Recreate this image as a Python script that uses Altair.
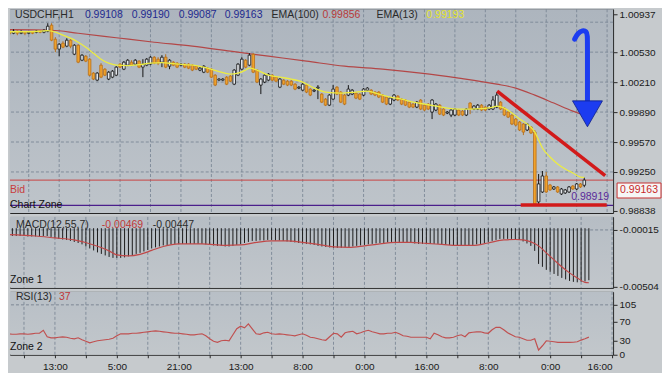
import altair as alt
import pandas as pd

# ---------------- data ----------------
BAR_INDEX = list(range(-13, 139))

OPEN = [
    1.00754, 1.00732, 1.00754, 1.00732, 1.00743, 1.00732, 1.00743, 1.00743, 1.00754, 1.00743,
    1.00754, 1.00818, 1.00668, 1.00562, 1.00626, 1.00594, 1.00658, 1.00508, 1.00604, 1.00444,
    1.00487, 1.00455, 1.00306, 1.00231, 1.00391, 1.00348, 1.00242, 1.00263, 1.00284, 1.00402,
    1.00348, 1.00391, 1.00423, 1.00402, 1.00434, 1.00370, 1.00391, 1.00402, 1.00476, 1.00455,
    1.00423, 1.00476, 1.00380, 1.00423, 1.00412, 1.00391, 1.00402, 1.00402, 1.00391, 1.00380,
    1.00338, 1.00316, 1.00359, 1.00348, 1.00284, 1.00231, 1.00231, 1.00263, 1.00274, 1.00188,
    1.00284, 1.00348, 1.00444, 1.00391, 1.00508, 1.00338, 1.00178, 1.00210, 1.00231, 1.00284,
    1.00263, 1.00156, 1.00231, 1.00220, 1.00220, 1.00188, 1.00146, 1.00124, 1.00178, 1.00135,
    1.00114, 1.00146, 1.00082, 1.00028, 0.99964, 1.00028, 1.00156, 1.00103, 1.00071, 1.00071,
    1.00082, 1.00092, 1.00082, 1.00071, 1.00124, 1.00124, 1.00103, 1.00103, 1.00071, 1.00050,
    0.99975, 1.00018, 1.00060, 1.00028, 1.00018, 0.99996, 0.99975, 0.99943, 1.00018, 0.99964,
    0.99975, 0.99890, 0.99911, 0.99964, 0.99922, 0.99879, 0.99858, 0.99858, 0.99911, 0.99900,
    0.99858, 0.99986, 0.99922, 0.99922, 0.99964, 0.99943, 0.99922, 0.99922, 0.99943, 0.99996,
    0.99932, 0.99890, 0.99858, 0.99815, 0.99783, 0.99762, 0.99698, 0.99730, 0.99676, 0.98930,
    0.99036, 0.99207, 0.99111, 0.99068, 0.99090, 0.99015, 0.99026, 0.99036, 0.99100, 0.99068,
    0.99122, 0.99108,
]
CLOSE = [
    1.00732, 1.00754, 1.00732, 1.00743, 1.00732, 1.00743, 1.00732, 1.00754, 1.00743, 1.00764,
    1.00807, 1.00658, 1.00562, 1.00615, 1.00583, 1.00658, 1.00594, 1.00604, 1.00423, 1.00498,
    1.00434, 1.00284, 1.00242, 1.00306, 1.00263, 1.00284, 1.00316, 1.00327, 1.00370, 1.00370,
    1.00423, 1.00444, 1.00391, 1.00444, 1.00370, 1.00402, 1.00455, 1.00476, 1.00412, 1.00412,
    1.00476, 1.00370, 1.00444, 1.00391, 1.00370, 1.00402, 1.00370, 1.00359, 1.00338, 1.00348,
    1.00359, 1.00380, 1.00316, 1.00263, 1.00178, 1.00242, 1.00242, 1.00188, 1.00220, 1.00338,
    1.00402, 1.00455, 1.00370, 1.00498, 1.00316, 1.00210, 1.00242, 1.00284, 1.00295, 1.00231,
    1.00220, 1.00242, 1.00188, 1.00178, 1.00178, 1.00135, 1.00156, 1.00188, 1.00103, 1.00071,
    1.00124, 1.00156, 0.99996, 0.99964, 1.00071, 1.00135, 1.00082, 0.99996, 0.99975, 1.00135,
    1.00124, 1.00039, 1.00028, 1.00135, 1.00146, 1.00082, 1.00071, 1.00050, 0.99996, 0.99975,
    1.00039, 1.00071, 1.00018, 0.99975, 0.99964, 0.99943, 0.99943, 0.99996, 0.99922, 0.99911,
    0.99922, 1.00018, 0.99975, 0.99868, 0.99858, 0.99890, 0.99911, 0.99922, 0.99858, 0.99858,
    0.99922, 0.99922, 0.99954, 0.99964, 0.99911, 0.99911, 0.99964, 1.00018, 1.00071, 0.99922,
    0.99858, 0.99836, 0.99762, 0.99751, 0.99698, 0.99676, 0.99762, 0.99666, 0.98908, 0.99122,
    0.99207, 0.99036, 0.99058, 0.99090, 0.99036, 0.99068, 0.99058, 0.99090, 0.99068, 0.99122,
    0.99090, 0.99163,
]
HIGH = [
    1.00775, 1.00775, 1.00764, 1.00764, 1.00754, 1.00754, 1.00754, 1.00764, 1.00764, 1.00775,
    1.00839, 1.00839, 1.00690, 1.00626, 1.00647, 1.00679, 1.00668, 1.00615, 1.00615, 1.00508,
    1.00498, 1.00466, 1.00316, 1.00316, 1.00412, 1.00359, 1.00327, 1.00338, 1.00380, 1.00412,
    1.00434, 1.00455, 1.00444, 1.00455, 1.00444, 1.00455, 1.00466, 1.00487, 1.00487, 1.00476,
    1.00498, 1.00508, 1.00455, 1.00434, 1.00423, 1.00412, 1.00412, 1.00412, 1.00402, 1.00391,
    1.00370, 1.00391, 1.00370, 1.00359, 1.00295, 1.00252, 1.00252, 1.00274, 1.00284, 1.00348,
    1.00412, 1.00476, 1.00455, 1.00519, 1.00519, 1.00348, 1.00252, 1.00295, 1.00306, 1.00295,
    1.00274, 1.00252, 1.00242, 1.00231, 1.00231, 1.00199, 1.00167, 1.00199, 1.00188, 1.00146,
    1.00135, 1.00178, 1.00092, 1.00039, 1.00082, 1.00178, 1.00167, 1.00114, 1.00082, 1.00178,
    1.00135, 1.00103, 1.00092, 1.00146, 1.00156, 1.00135, 1.00114, 1.00114, 1.00082, 1.00060,
    1.00050, 1.00082, 1.00071, 1.00039, 1.00028, 1.00007, 0.99986, 1.00007, 1.00028, 0.99975,
    0.99986, 1.00028, 0.99986, 0.99975, 0.99932, 0.99900, 0.99922, 0.99932, 0.99922, 0.99911,
    0.99932, 0.99996, 0.99964, 0.99975, 0.99975, 0.99954, 0.99975, 1.00060, 1.00103, 1.00007,
    0.99943, 0.99900, 0.99868, 0.99826, 0.99794, 0.99772, 0.99772, 0.99740, 0.99698, 0.99228,
    0.99260, 0.99250, 0.99122, 0.99100, 0.99100, 0.99079, 0.99068, 0.99100, 0.99111, 0.99132,
    0.99132, 0.99190,
]
LOW = [
    1.00711, 1.00722, 1.00711, 1.00722, 1.00711, 1.00722, 1.00722, 1.00732, 1.00732, 1.00732,
    1.00743, 1.00647, 1.00530, 1.00487, 1.00572, 1.00583, 1.00572, 1.00498, 1.00412, 1.00434,
    1.00423, 1.00274, 1.00231, 1.00220, 1.00252, 1.00274, 1.00231, 1.00252, 1.00274, 1.00359,
    1.00338, 1.00380, 1.00380, 1.00391, 1.00359, 1.00263, 1.00380, 1.00391, 1.00402, 1.00391,
    1.00370, 1.00359, 1.00348, 1.00380, 1.00359, 1.00380, 1.00359, 1.00348, 1.00327, 1.00338,
    1.00327, 1.00306, 1.00306, 1.00252, 1.00167, 1.00220, 1.00220, 1.00178, 1.00210, 1.00178,
    1.00274, 1.00338, 1.00359, 1.00380, 1.00306, 1.00199, 1.00082, 1.00199, 1.00220, 1.00220,
    1.00210, 1.00146, 1.00178, 1.00167, 1.00167, 1.00124, 1.00135, 1.00114, 1.00092, 1.00060,
    1.00103, 1.00028, 0.99986, 0.99954, 0.99954, 1.00018, 1.00071, 0.99986, 0.99964, 1.00060,
    1.00071, 1.00028, 1.00018, 1.00060, 1.00114, 1.00071, 1.00060, 1.00039, 0.99986, 0.99964,
    0.99964, 1.00007, 1.00007, 0.99964, 0.99954, 0.99932, 0.99932, 0.99932, 0.99911, 0.99900,
    0.99911, 0.99815, 0.99900, 0.99858, 0.99847, 0.99868, 0.99836, 0.99847, 0.99847, 0.99847,
    0.99847, 0.99868, 0.99911, 0.99911, 0.99900, 0.99900, 0.99911, 0.99911, 0.99932, 0.99911,
    0.99847, 0.99826, 0.99751, 0.99740, 0.99687, 0.99644, 0.99687, 0.99655, 0.98898, 0.98898,
    0.99026, 0.99026, 0.99047, 0.99058, 0.99026, 0.99004, 0.99015, 0.99026, 0.99058, 0.99058,
    0.99079, 0.99087,
]

EMA13_IDX = [-13, -9, -5, -3, -1, 1, 3, 5, 7, 9, 11, 13, 15, 18, 21, 24, 27, 30, 33, 36,
             39, 42, 45, 47, 49, 50, 52, 55, 58, 61, 64, 67, 70, 74, 78, 81, 84, 87, 90, 93,
             96, 99, 102, 105, 108, 111, 114, 115, 117, 119, 121, 123, 125, 126, 127, 129,
             131, 133, 135, 137, 138]
EMA13_VAL = [1.00748, 1.00748, 1.00754, 1.00759, 1.00743, 1.00711, 1.00679, 1.00636, 1.00583,
             1.00519, 1.00455, 1.00412, 1.00391, 1.00386, 1.00396, 1.00412, 1.00418, 1.00407,
             1.00396, 1.00386, 1.00359, 1.00322, 1.00295, 1.00306, 1.00338, 1.00359, 1.00338,
             1.00284, 1.00263, 1.00242, 1.00210, 1.00146, 1.00103, 1.00092, 1.00103, 1.00114,
             1.00082, 1.00050, 1.00028, 0.99996, 0.99975, 0.99954, 0.99932, 0.99922, 0.99922,
             0.99927, 0.99943, 0.99954, 0.99932, 0.99879, 0.99815, 0.99762, 0.99676, 0.99591,
             0.99506, 0.99410, 0.99335, 0.99282, 0.99239, 0.99196, 0.99193]

EMA100_IDX = [-13, -2, 5, 15, 25, 35, 45, 55, 65, 75, 85, 95, 105, 115, 120, 125, 130, 135, 138]
EMA100_VAL = [1.00770, 1.00764, 1.00732, 1.00684, 1.00636, 1.00594, 1.00540, 1.00487, 1.00434,
              1.00380, 1.00348, 1.00306, 1.00252, 1.00188, 1.00146, 1.00071, 0.99986, 0.99900,
              0.99856]

MACD_HIST = [
    -0.00067, -0.00067, -0.00067, -0.00067, -0.00067, -0.00067, -0.00071, -0.00071, -0.00071, -0.00071,
    -0.00067, -0.00067, -0.00075, -0.00084, -0.00092, -0.00097, -0.00101, -0.00109, -0.00118, -0.00127,
    -0.00139, -0.00157, -0.00174, -0.00191, -0.00208, -0.00221, -0.00234, -0.00247, -0.00255, -0.00255,
    -0.00255, -0.00251, -0.00242, -0.00234, -0.00221, -0.00212, -0.00200, -0.00187, -0.00174, -0.00165,
    -0.00157, -0.00148, -0.00144, -0.00139, -0.00135, -0.00135, -0.00135, -0.00135, -0.00135, -0.00135,
    -0.00135, -0.00135, -0.00139, -0.00144, -0.00148, -0.00152, -0.00152, -0.00157, -0.00157, -0.00152,
    -0.00144, -0.00135, -0.00127, -0.00118, -0.00109, -0.00109, -0.00105, -0.00105, -0.00101, -0.00101,
    -0.00105, -0.00105, -0.00109, -0.00114, -0.00118, -0.00122, -0.00127, -0.00131, -0.00135, -0.00139,
    -0.00144, -0.00152, -0.00157, -0.00161, -0.00165, -0.00169, -0.00169, -0.00169, -0.00165, -0.00161,
    -0.00157, -0.00152, -0.00148, -0.00144, -0.00139, -0.00135, -0.00131, -0.00127, -0.00127, -0.00122,
    -0.00118, -0.00118, -0.00118, -0.00118, -0.00122, -0.00127, -0.00131, -0.00135, -0.00135, -0.00135,
    -0.00135, -0.00135, -0.00135, -0.00139, -0.00144, -0.00144, -0.00148, -0.00152, -0.00152, -0.00152,
    -0.00152, -0.00144, -0.00139, -0.00135, -0.00127, -0.00118, -0.00109, -0.00101, -0.00092, -0.00092,
    -0.00092, -0.00092, -0.00097, -0.00101, -0.00114, -0.00131, -0.00152, -0.00195, -0.00307, -0.00332,
    -0.00358, -0.00375, -0.00393, -0.00410, -0.00427, -0.00440, -0.00453, -0.00461, -0.00465, -0.00461,
    -0.00457, -0.00447,
]
SIGNAL_IDX = [-13, -5, 0, 5, 10, 14, 16, 19, 22, 25, 28, 32, 38, 44, 48, 52, 56, 60, 64, 68, 72,
              76, 80, 84, 88, 92, 96, 100, 104, 108, 112, 116, 119, 121, 123, 125, 127, 129, 131,
              133, 135, 137, 138]
SIGNAL_VAL = [-0.00054, -0.00067, -0.00084, -0.00101, -0.00144, -0.00195, -0.00230, -0.00238,
              -0.00225, -0.00191, -0.00157, -0.00135, -0.00135, -0.00148, -0.00144, -0.00122,
              -0.00109, -0.00109, -0.00122, -0.00139, -0.00161, -0.00165, -0.00152, -0.00135,
              -0.00122, -0.00122, -0.00131, -0.00139, -0.00148, -0.00148, -0.00127, -0.00101,
              -0.00097, -0.00101, -0.00118, -0.00152, -0.00212, -0.00272, -0.00332, -0.00384,
              -0.00427, -0.00465, -0.00469]

RSI = [
    44.1, 44.1, 43.1, 43.1, 44.1, 44.1, 43.1, 44.1, 45.2, 45.2,
    51.5, 37.8, 35.7, 35.7, 36.8, 37.8, 36.8, 34.7, 33.6, 35.7,
    31.5, 28.4, 25.2, 27.3, 29.4, 30.5, 31.5, 32.6, 34.7, 39.9,
    44.1, 44.1, 44.1, 45.2, 45.2, 46.2, 47.3, 48.3, 49.4, 50.4,
    49.4, 48.3, 47.3, 46.2, 45.2, 45.2, 44.1, 43.1, 42.0, 42.0,
    43.1, 44.1, 39.9, 33.6, 28.4, 26.3, 29.4, 30.5, 29.4, 42.0,
    54.6, 59.9, 56.7, 65.1, 54.6, 44.1, 43.1, 46.2, 47.3, 44.1,
    43.1, 44.1, 43.1, 42.0, 41.0, 39.9, 42.0, 44.1, 41.0, 36.8,
    35.7, 33.6, 31.5, 30.5, 37.8, 45.2, 44.1, 36.8, 46.2, 48.3,
    49.4, 44.1, 46.2, 49.4, 51.5, 48.3, 46.2, 44.1, 44.1, 45.2,
    45.2, 47.3, 44.1, 39.9, 38.9, 36.8, 36.8, 36.8, 36.8, 36.8,
    33.6, 45.2, 42.0, 37.8, 35.7, 35.7, 36.8, 39.9, 42.0, 37.8,
    46.2, 47.3, 48.3, 48.3, 46.2, 45.2, 52.5, 57.8, 57.8, 52.5,
    46.2, 42.0, 37.8, 36.8, 33.6, 30.5, 30.5, 33.6, 9.9, 18.9,
    29.4, 28.4, 27.3, 25.9, 25.9, 25.9, 25.9, 26.3, 27.3, 30.9,
    33.6, 37.0,
]

GRID_X = list(range(-8, 145, 8))
X_LABELS = ["13:00", "5:00", "21:00", "13:00", "8:00", "0:00", "16:00", "8:00", "0:00", "16:00"]
MAIN_TICKS = [1.00937, 1.00530, 1.00210, 0.99890, 0.99570, 0.99250, 0.98838]
MAIN_GRID = [1.00850, 1.00530, 1.00210, 0.99890, 0.99570, 0.99250]
MACD_TICKS = [-0.00015, -0.00504]
RSI_TICKS = [0, 30, 70, 105]

BID = 0.99163
ZONE_LEVEL = 0.98894
TREND_IDX = [115.1, 143.5]
TREND_VAL = [1.00113, 0.99212]
SUPPORT_IDX = [121.3, 143.9]
SUPPORT_VAL = [0.98897, 0.98897]
ARROW_IDX = [135.48, 136.26, 137.55, 138.58, 138.84, 138.84, 138.84]
ARROW_VAL = [1.00668, 1.00732, 1.00764, 1.00753, 1.00710, 1.00593, 0.99953]
ARROW_HEAD = (138.84, 0.99871)

# ---------------- layout / style ----------------
W = 604
H_MAIN, H_MACD, H_RSI = 204, 71, 63
X_DOMAIN = [-11.613, 144.258]
Y_MAIN = [0.98812, 1.00988]
Y_MACD = [-0.005126, 0.000965]
Y_RSI = [0, 132.35]

FONT = "Liberation Sans"
LABEL_C = "#1a1a1a"
GRID_C = "#7c8896"
OUTER_BG = "#c6cacd"

ONE = pd.DataFrame({"k": [0]})

candles = pd.DataFrame({"i": BAR_INDEX, "open": OPEN, "high": HIGH, "low": LOW, "close": CLOSE})
candles["dir"] = ["up" if c >= o else "down" for o, c in zip(OPEN, CLOSE)]
ema13 = pd.DataFrame({"i": EMA13_IDX, "p": EMA13_VAL})
ema100 = pd.DataFrame({"i": EMA100_IDX, "p": EMA100_VAL})
macd = pd.DataFrame({"i": BAR_INDEX, "v": MACD_HIST, "zero": [0.0] * len(BAR_INDEX)})
signal = pd.DataFrame({"i": SIGNAL_IDX, "v": SIGNAL_VAL})
rsi = pd.DataFrame({"i": BAR_INDEX, "r": RSI})

xs = alt.Scale(domain=X_DOMAIN, nice=False, zero=False)
ys_main = alt.Scale(domain=Y_MAIN, nice=False, zero=False)
ys_macd = alt.Scale(domain=Y_MACD, nice=False, zero=False)
ys_rsi = alt.Scale(domain=Y_RSI, nice=False, zero=False)

common_y_axis = dict(orient="right", title=None, grid=False, domain=False, tickSize=4,
                     tickColor="#2a2a2a", labelPadding=2, labelColor=LABEL_C,
                     labelFont=FONT, labelFontSize=10)
ax_main = alt.Axis(values=MAIN_TICKS, format=".5f", **common_y_axis)
ax_macd = alt.Axis(values=MACD_TICKS,
                   labelExpr="replace(format(datum.value, '.5f'), '\u2212', '-')",
                   **common_y_axis)
ax_rsi = alt.Axis(values=RSI_TICKS, format="d", **common_y_axis)

lab_js = "[" + ",".join("'%s'" % s for s in X_LABELS) + "]"
ax_x_bottom = alt.Axis(values=GRID_X, title=None, grid=False, domain=False, tickSize=3,
                       tickColor="#2a2a2a", labelPadding=4, labelColor=LABEL_C,
                       labelFont=FONT, labelFontSize=10, labelOverlap=False,
                       labelExpr="(datum.value >= 0 && datum.value % 16 == 0) ? "
                                 + lab_js + "[datum.value / 16] : ''")


def xq(axis=None):
    return alt.X("i:Q", scale=xs, axis=axis)


def bg(h, top, bottom):
    grad = {"gradient": "linear", "x1": 0, "x2": 0, "y1": 0, "y2": 1,
            "stops": [{"offset": 0, "color": top}, {"offset": 1, "color": bottom}]}
    return alt.Chart(ONE).mark_rect(color=grad).encode(
        x=alt.value(0), x2=alt.value(W), y=alt.value(0), y2=alt.value(h))


def vgrid(axis=None):
    return alt.Chart(pd.DataFrame({"i": GRID_X})).mark_rule(
        color=GRID_C, strokeDash=[3, 2], strokeWidth=1, opacity=0.9).encode(x=xq(axis))


def txt(s, x, y, color=LABEL_C, size=10.5, align="left"):
    return alt.Chart(ONE).mark_text(text=s, align=align, baseline="middle", font=FONT,
                                    fontSize=size, color=color).encode(
        x=alt.value(x), y=alt.value(y))


# ---------------- main price panel ----------------
def ym(field):
    return alt.Y(field + ":Q", scale=ys_main, axis=ax_main)


hgrid = alt.Chart(pd.DataFrame({"p": MAIN_GRID})).mark_rule(
    color=GRID_C, strokeDash=[3, 2], strokeWidth=1, opacity=0.9).encode(y=ym("p"))
bid_line = alt.Chart(pd.DataFrame({"p": [BID]})).mark_rule(
    color="#c84444", strokeWidth=1).encode(y=ym("p"))
zone_line = alt.Chart(pd.DataFrame({"p": [ZONE_LEVEL]})).mark_rule(
    color="#4b1f8c", strokeWidth=1.3).encode(y=ym("p"))
ema100_line = alt.Chart(ema100).mark_line(
    color="#b34747", strokeWidth=1.2, interpolate="monotone", clip=True).encode(
    x=xq(), y=ym("p"))
wicks = alt.Chart(candles).mark_rule(strokeWidth=1, clip=True).encode(
    x=xq(), y=ym("low"), y2="high:Q",
    color=alt.Color("dir:N", scale=alt.Scale(domain=["up", "down"],
                                             range=["#151515", "#b8701c"]), legend=None))
bodies = alt.Chart(candles).mark_bar(size=2.6, strokeWidth=0.8, clip=True).encode(
    x=xq(), y=ym("open"), y2="close:Q",
    fill=alt.Fill("dir:N", scale=alt.Scale(domain=["up", "down"],
                                           range=["#e4e8ec", "#f0a22c"]), legend=None),
    stroke=alt.Stroke("dir:N", scale=alt.Scale(domain=["up", "down"],
                                               range=["#151515", "#b8701c"]), legend=None))
ema13_line = alt.Chart(ema13).mark_line(
    color="#ecec42", strokeWidth=1.3, interpolate="monotone", clip=True).encode(
    x=xq(), y=ym("p"))
trend = alt.Chart(pd.DataFrame({"i": TREND_IDX, "p": TREND_VAL})).mark_line(
    color="#d21a1a", strokeWidth=3.5).encode(x=xq(), y=ym("p"))
support = alt.Chart(pd.DataFrame({"i": SUPPORT_IDX, "p": SUPPORT_VAL})).mark_line(
    color="#d21a1a", strokeWidth=3.5).encode(x=xq(), y=ym("p"))
arrow = alt.Chart(pd.DataFrame({"i": ARROW_IDX, "p": ARROW_VAL,
                                "k": list(range(len(ARROW_IDX)))})).mark_line(
    color="#1c3cf0", strokeWidth=5, strokeCap="round", interpolate="basis").encode(
    x=xq(), y=ym("p"), order="k:Q")
arrow_head = alt.Chart(pd.DataFrame({"i": [ARROW_HEAD[0]], "p": [ARROW_HEAD[1]]})).mark_point(
    shape="triangle-down", size=900, filled=True, color="#1c3cf0", opacity=1,
    stroke="#0e1f8a", strokeWidth=0.8).encode(x=xq(), y=ym("p"))

price_box = alt.Chart(ONE).mark_rect(fill="#f6f6f6", stroke="#c83030", strokeWidth=1).encode(
    x=alt.value(608), x2=alt.value(652), y=alt.value(174), y2=alt.value(189))

header = [
    txt("USDCHF,H1", 5, 5.5, "#2a2a2a"),
    txt("0.99108", 75, 5.5, "#1f2a8f"),
    txt("0.99190", 122, 5.5, "#1f2a8f"),
    txt("0.99087", 169, 5.5, "#1f2a8f"),
    txt("0.99163", 215, 5.5, "#1f2a8f"),
    txt("EMA(100)", 262, 5.5, "#2a2a2a"),
    txt("0.99856", 313, 5.5, "#b83a3a"),
    txt("EMA(13)", 367, 5.5, "#2a2a2a"),
    txt("0.99193", 417, 5.5, "#e4e42c"),
]

main = alt.layer(
    bg(H_MAIN, "#adb5be", "#bec4ca"), vgrid(), hgrid, bid_line, zone_line, ema100_line,
    wicks, bodies, ema13_line, trend, support, arrow, arrow_head,
    txt("Bid", 0, 181, "#c83c3c"), txt("Chart Zone", 0, 196, "#111111"),
    txt("0.98919", 600, 188, "#5a2a9a", 10.5, "right"),
    price_box, txt("0.99163", 630, 181.5, "#c82828", 10.5, "center"),
    *header,
).properties(width=W, height=H_MAIN)

# ---------------- MACD panel ----------------
def yd(field):
    return alt.Y(field + ":Q", scale=ys_macd, axis=ax_macd)


macd_grid = alt.Chart(pd.DataFrame({"v": [MACD_TICKS[0]]})).mark_rule(
    color=GRID_C, strokeDash=[3, 2], strokeWidth=1).encode(y=yd("v"))
hist = alt.Chart(macd).mark_rule(color="#1c1c1c", strokeWidth=1, clip=True).encode(
    x=xq(), y=yd("v"), y2="zero:Q")
sig_line = alt.Chart(signal).mark_line(
    color="#c04848", strokeWidth=1.2, interpolate="monotone", clip=True).encode(
    x=xq(), y=yd("v"))

macd_panel = alt.layer(
    bg(H_MACD, "#b6bdc4", "#c1c6cb"), vgrid(), macd_grid, hist, sig_line,
    txt("MACD(12,55,7)", 6, 8, "#2a2a2a"),
    txt("-0.00469", 92, 8, "#c03838"),
    txt("-0.00447", 143, 8, "#2a2a2a"),
    txt("Zone 1", 0, 63, "#111111"),
).properties(width=W, height=H_MACD)

# ---------------- RSI panel ----------------
def yr(field):
    return alt.Y(field + ":Q", scale=ys_rsi, axis=ax_rsi)


rsi_grid = alt.Chart(pd.DataFrame({"r": [105]})).mark_rule(
    color=GRID_C, strokeDash=[3, 2], strokeWidth=1).encode(y=yr("r"))
rsi_line = alt.Chart(rsi).mark_line(color="#c05050", strokeWidth=1.2, clip=True).encode(
    x=xq(ax_x_bottom), y=yr("r"))

rsi_panel = alt.layer(
    bg(H_RSI, "#b8bfc6", "#c2c7cb"), vgrid(ax_x_bottom), rsi_grid, rsi_line,
    txt("RSI(13)", 6, 5.5, "#2a2a2a"),
    txt("37", 49, 5.5, "#c03838"),
    txt("Zone 2", 0, 55, "#111111"),
).properties(width=W, height=H_RSI)

chart = alt.vconcat(main, macd_panel, rsi_panel, spacing=4, bounds="flush").properties(
    padding={"left": 0, "top": 0, "right": 0, "bottom": 0}
).configure(background=OUTER_BG).configure_view(stroke="#1e1e1e", strokeWidth=1)

chart.save("out.html", embed_options={"renderer": "svg", "actions": False})
